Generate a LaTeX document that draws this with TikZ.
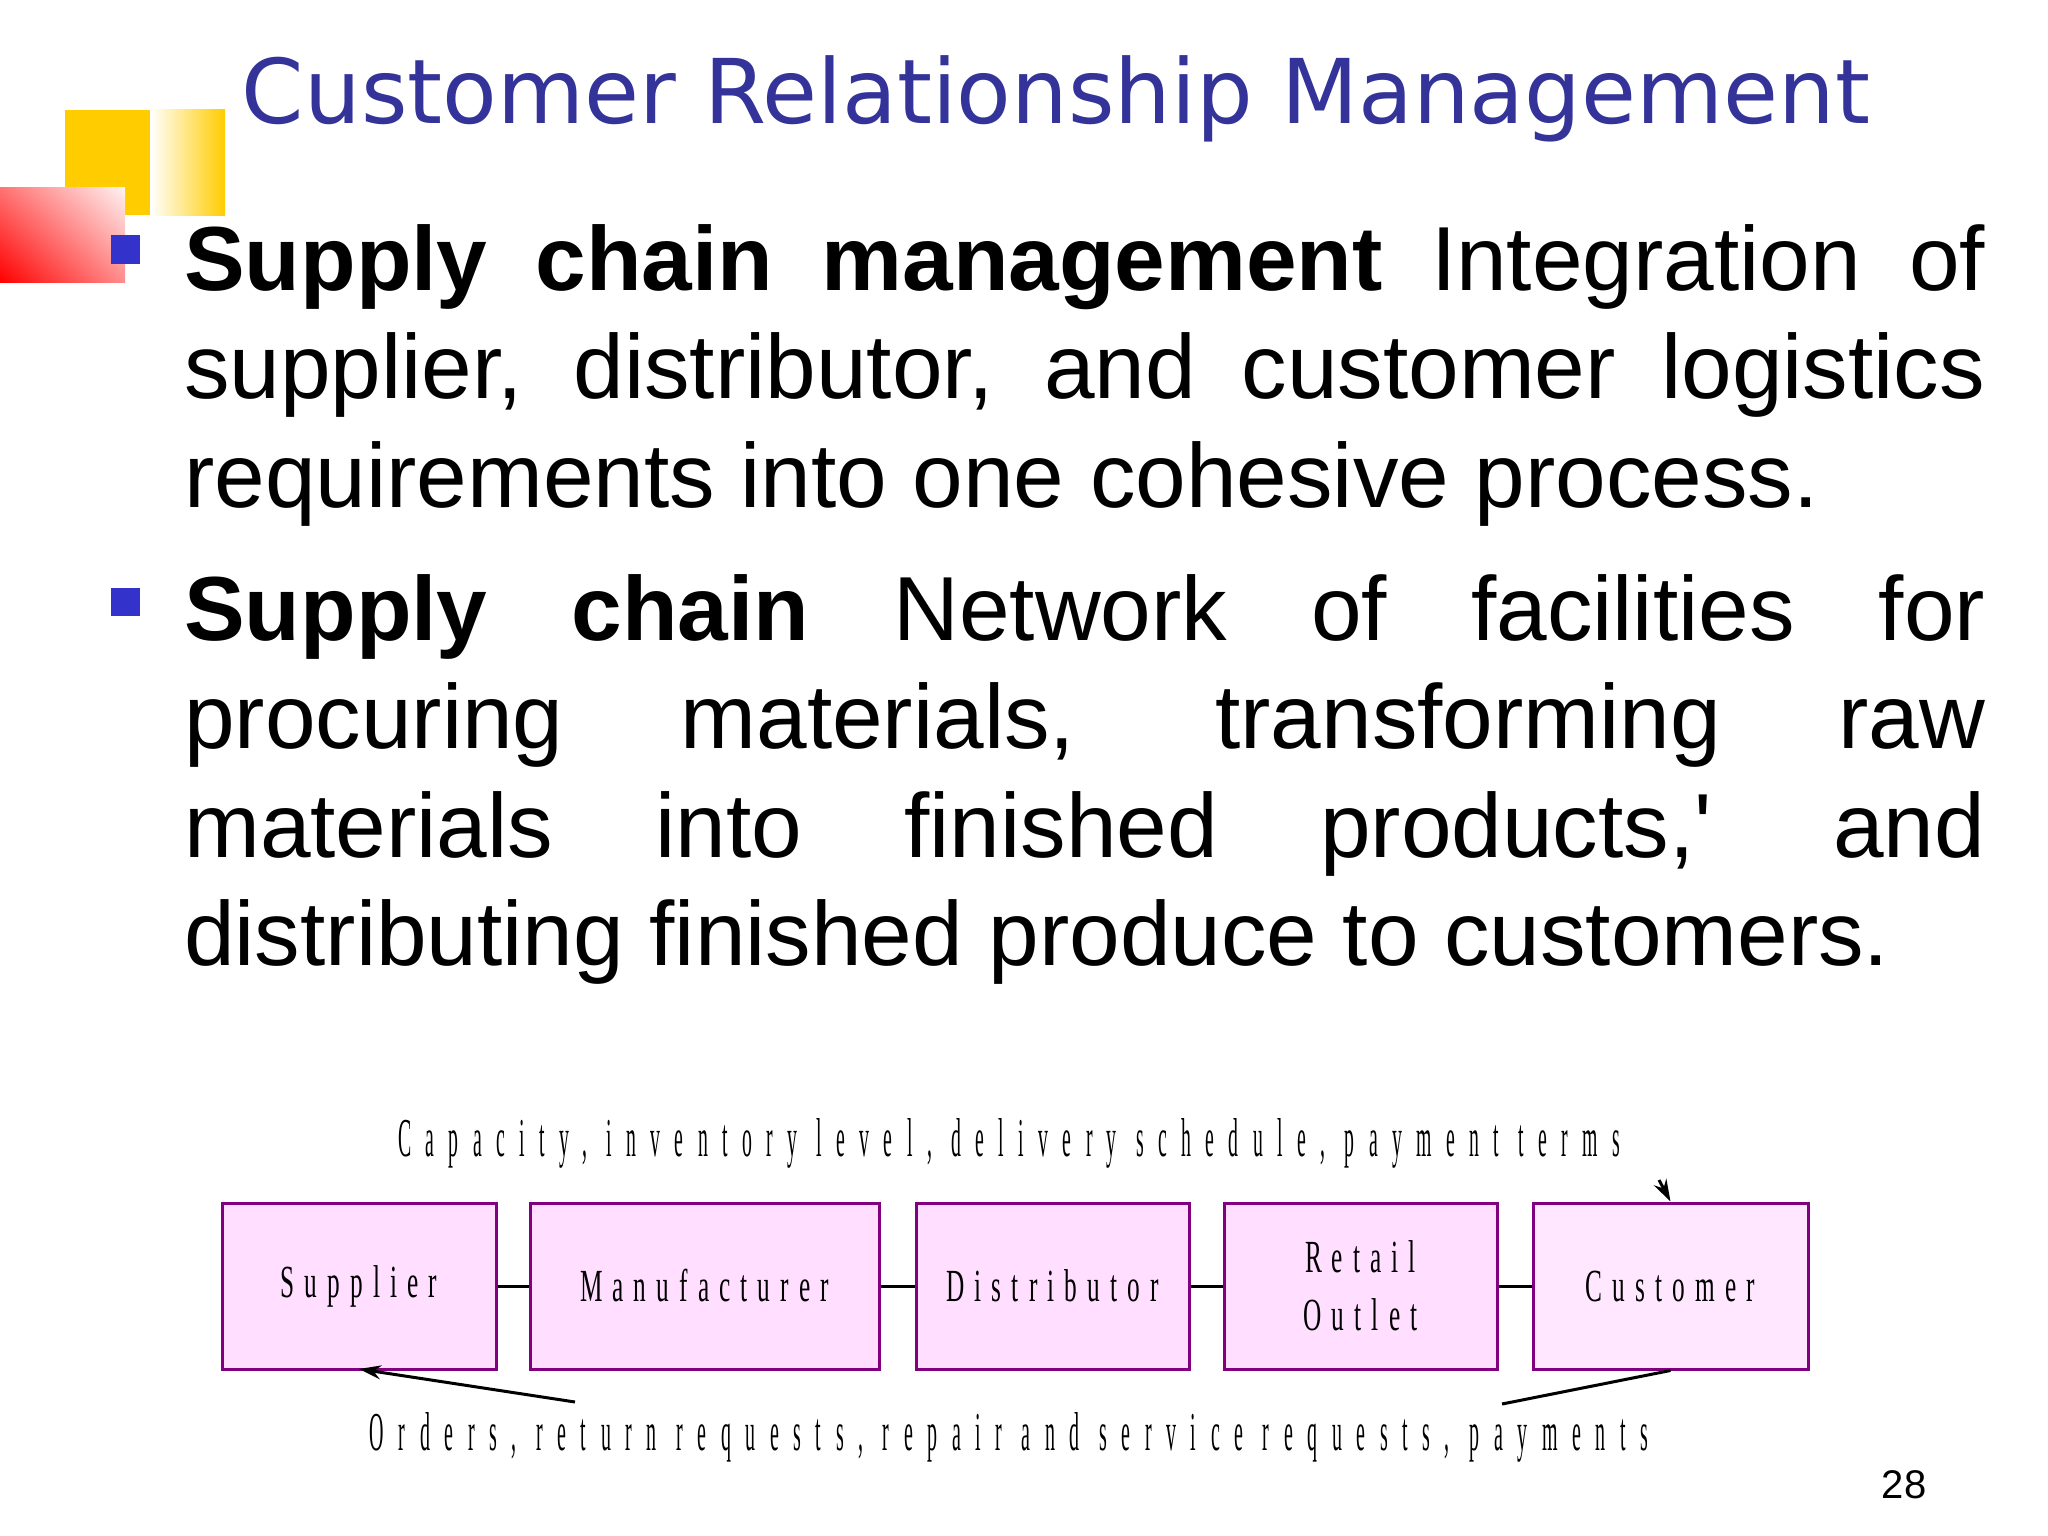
\documentclass[tikz,border=0pt]{standalone}
\usepackage{fontspec}
\setmainfont{Liberation Sans}
\newfontfamily\titlefont{DejaVu Sans}
\newfontfamily\dgfont[FakeStretch=0.55,LetterSpace=40]{Liberation Serif}
\newfontfamily\lblfont[FakeStretch=0.55,LetterSpace=22]{Liberation Serif}
\usetikzlibrary{arrows.meta,shadings}
\definecolor{titleblue}{RGB}{51,51,153}
\definecolor{bulletblue}{RGB}{51,51,204}
\definecolor{boxfill}{RGB}{255,222,255}
\definecolor{boxdraw}{RGB}{128,0,128}
\definecolor{gold}{RGB}{255,204,0}
\tikzset{
  chainbox/.style={draw=boxdraw, line width=3pt, fill=boxfill},
  boxlabel/.style={font=\lblfont\fontsize{46}{58}\selectfont, align=center},
  link/.style={line width=3pt},
  flow/.style={line width=3pt, -{Stealth[length=22pt,width=14pt]}}
}
\begin{document}
\begin{tikzpicture}[x=1pt,y=-1pt]
\useasboundingbox (0,0) rectangle (2048,1536);
\fill[white] (0,0) rectangle (2048,1536);
% decoration
\fill[gold] (65,110) rectangle (150,215);
\shade[left color=white, right color=gold] (150,110) rectangle (225,215);
\shade[lower left=red, upper left=red!55!white, upper right=white!95!red, lower right=red!45!white] (0,187) rectangle (125,282);
% title
\node[anchor=base, inner sep=0, text=titleblue] (title) at (1056,124)
  {\resizebox{1628pt}{!}{\titlefont\fontsize{120}{140}\selectfont Customer Relationship Management}};
% bullets
\fill[bulletblue] (111,235) rectangle (140,264);
\fill[bulletblue] (111,588) rectangle (140,616);
\node[anchor=base west, inner sep=0] (p1) at (184,290)
  {\parbox[t]{1801pt}{\fontsize{91}{108.5}\selectfont\hyphenpenalty=10000\spaceskip=0.28em plus 1em minus 0.05em
   \textbf{Supply chain management} Integration of supplier, distributor, and customer logistics requirements into one cohesive process.}};
\node[anchor=base west, inner sep=0] (p2) at (184,640)
  {\parbox[t]{1801pt}{\fontsize{91}{108.5}\selectfont\hyphenpenalty=10000\spaceskip=0.28em plus 1em minus 0.05em
   \textbf{Supply chain} Network of facilities for\linebreak procuring materials, transforming raw\linebreak materials into finished products,\textquotesingle{} and\linebreak distributing finished produce to customers.}};
% diagram
\node[chainbox, minimum width=274pt, minimum height=166pt] (sup) at (359,1286) {};
\node[chainbox, minimum width=349pt, minimum height=166pt] (man) at (704.5,1286) {};
\node[chainbox, minimum width=273pt, minimum height=166pt] (dis) at (1052.5,1286) {};
\node[chainbox, minimum width=273pt, minimum height=166pt] (ret) at (1360.5,1286) {};
\node[chainbox, fill=boxfill!70!white, minimum width=275pt, minimum height=166pt] (cus) at (1670.5,1286) {};
\node[boxlabel] at (sup) {Supplier};
\node[boxlabel] at (man) {Manufacturer};
\node[boxlabel] at (dis) {Distributor};
\node[boxlabel] at (ret) {Retail\\Outlet};
\node[boxlabel] at (cus) {Customer};
\draw[link] (sup) -- (man);
\draw[link] (man) -- (dis);
\draw[link] (dis) -- (ret);
\draw[link] (ret) -- (cus);
\node[inner sep=0] (top) at (1009,1143)
  {\resizebox{1222pt}{38pt}{\dgfont\fontsize{40}{46}\selectfont Capacity, inventory level, delivery schedule, payment terms}};
\node[inner sep=0] (bot) at (1009,1437)
  {\resizebox{1278pt}{38pt}{\dgfont\fontsize{40}{46}\selectfont Orders, return requests, repair and service requests, payments}};
\coordinate (ts) at (1659,1180);
\coordinate (bl) at (575,1402);
\coordinate (br) at (1502,1404);
\draw[flow] (ts) -- (cus.north);
\draw[flow] (bl) -- (359,1369);
\draw[line width=3pt] (br) -- (cus.south);
% page number
\node[anchor=base, inner sep=0] (pg) at (1904,1498) {\fontsize{40}{46}\selectfont 28};
\end{tikzpicture}
\end{document}
